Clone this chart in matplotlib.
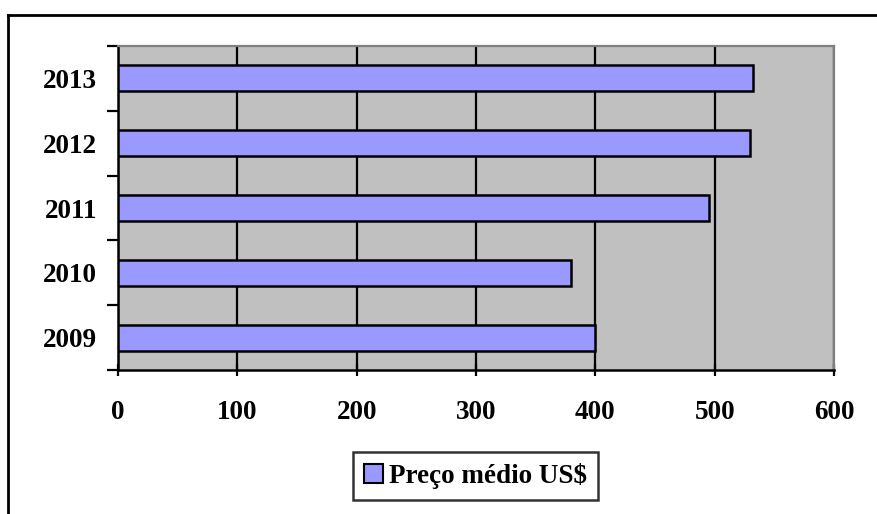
import matplotlib

matplotlib.use("Agg")
import matplotlib.pyplot as plt
import numpy as np
from matplotlib.lines import Line2D
from matplotlib.patches import Patch

years = ["2009", "2010", "2011", "2012", "2013"]
preco_medio = [400, 380, 495, 530, 532]
x_ticks = [0, 100, 200, 300, 400, 500, 600]
series_label = "Preço médio US$"

plt.rcParams["font.family"] = ["Liberation Serif", "DejaVu Serif"]
plt.rcParams["font.weight"] = "bold"
FS = 19.5

W, H = 877, 514
fig = plt.figure(figsize=(W / 100, H / 100), dpi=100)
ax = fig.add_axes([118 / W, 1 - 370 / H, (834 - 118) / W, (370 - 46) / H])
ax.set_facecolor("#c0c0c0")

pos = np.arange(len(years))
ax.set_axisbelow(True)
ax.xaxis.grid(True, color="black", linewidth=1.6)
ax.barh(pos, preco_medio, height=0.4, color="#9999ff", edgecolor="black",
        linewidth=1.8, label=series_label, zorder=3)

ax.set_xlim(x_ticks[0], x_ticks[-1])
ax.set_ylim(-0.5, len(years) - 0.5)
ax.set_xticks(x_ticks)
ax.set_xticklabels([str(t) for t in x_ticks], fontsize=FS, fontweight="bold")

# category boundaries carry the tick marks, labels sit between them
ax.set_yticks(np.arange(-0.5, len(years)), labels=[""] * (len(years) + 1))
ax.set_yticks(pos, labels=years, minor=True)
ax.tick_params(axis="y", which="major", direction="out", length=8, width=1.6)
ax.tick_params(axis="y", which="minor", length=0, pad=15, labelsize=FS)
ax.tick_params(axis="x", direction="inout", length=9, width=1.6, pad=17)

for side in ("left", "bottom"):
    ax.spines[side].set_color("black")
    ax.spines[side].set_linewidth(1.8)
for side in ("top", "right"):
    ax.spines[side].set_color("#808080")
    ax.spines[side].set_linewidth(1.6)

handle = Patch(facecolor="#9999ff", edgecolor="black", linewidth=1.5)
leg = fig.legend([handle], [series_label], loc="center", bbox_to_anchor=(475.5 / W, 1 - 476 / H),
                 prop={"size": FS, "weight": "bold"}, frameon=True, fancybox=False,
                 handlelength=0.7, handleheight=0.7, handletextpad=0.2, borderpad=0.4,
                 borderaxespad=0)
leg.get_frame().set_edgecolor("black")
leg.get_frame().set_linewidth(1.8)

# outer chart frame, open on the right and bottom
fig.add_artist(Line2D([8 / W, 8 / W], [0, 1 - 15 / H], color="black", linewidth=2))
fig.add_artist(Line2D([8 / W, 1], [1 - 15 / H, 1 - 15 / H], color="black", linewidth=2))

fig.savefig("out.png", dpi=100)
